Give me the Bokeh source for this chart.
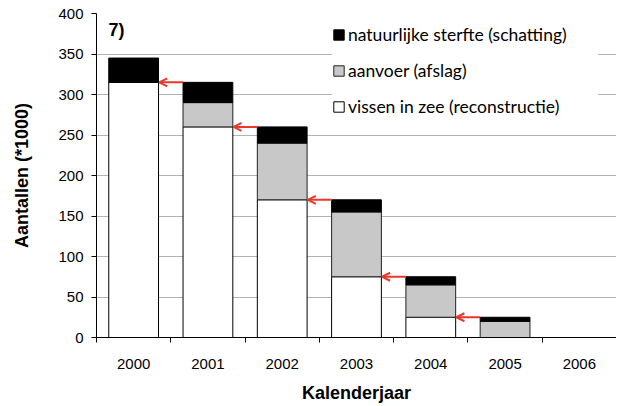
from bokeh.plotting import figure
from bokeh.models import (Range1d, FixedTicker, ColumnDataSource, Arrow, OpenHead,
                          Label, Legend, LegendItem)
from bokeh.embed import file_html
from bokeh.resources import INLINE

years = ["2000", "2001", "2002", "2003", "2004", "2005", "2006"]
vissen = [315, 260, 170, 75, 25, 0, 0]        # vissen in zee (reconstructie)
aanvoer = [0, 30, 70, 80, 40, 20, 0]           # aanvoer (afslag)
sterfte = [30, 25, 20, 15, 10, 5, 0]           # natuurlijke sterfte (schatting)
y_ticks = [0, 50, 100, 150, 200, 250, 300, 350, 400]

BAR_W = 0.67
xs = [i + 0.5 for i in range(len(years))]
t2 = [v + a for v, a in zip(vissen, aanvoer)]
t3 = [v + s for v, s in zip(t2, sterfte)]

src = ColumnDataSource(dict(x=xs, w0=[0] * len(xs), v=vissen, a=t2, s=t3))

p = figure(width=616, height=405, output_backend="svg", toolbar_location=None,
           x_range=Range1d(0, len(years)), y_range=Range1d(0, 400),
           min_border_left=96, min_border_right=0, min_border_top=13, min_border_bottom=66)
p.outline_line_color = None
p.background_fill_color = "white"

p.xgrid.grid_line_color = None
p.ygrid.grid_line_color = "#b3b3b3"
p.ygrid.grid_line_width = 1

r_white = p.vbar(x="x", width=BAR_W, bottom="w0", top="v", source=src,
                 fill_color="white", line_color="black", line_width=1)
r_grey = p.vbar(x="x", width=BAR_W, bottom="v", top="a", source=src,
                fill_color="#c8c8c8", line_color="#222222", line_width=1)
r_black = p.vbar(x="x", width=BAR_W, bottom="a", top="s", source=src,
                 fill_color="black", line_color="black", line_width=1)

ax_s, ay, ax_e = [], [], []
for i in range(len(years) - 1):
    if t3[i + 1] > 0:
        ax_s.append(xs[i + 1] - BAR_W / 2)
        ax_e.append(xs[i] + BAR_W / 2 + 0.01)
        ay.append(vissen[i])
asrc = ColumnDataSource(dict(xs=ax_s, xe=ax_e, y=ay))
p.add_layout(Arrow(end=OpenHead(size=8, line_color="#e8392a", line_width=2),
                   x_start="xs", y_start="y", x_end="xe", y_end="y", source=asrc,
                   line_color="#e8392a", line_width=2))

xa = p.xaxis[0]
xa.ticker = FixedTicker(ticks=xs, minor_ticks=list(range(len(years) + 1)))
xa.major_label_overrides = {x: y for x, y in zip(xs, years)}
xa.major_tick_line_color = None
xa.minor_tick_in = 0
xa.minor_tick_out = 5
xa.minor_tick_line_color = "black"
xa.axis_line_color = "black"
xa.major_label_standoff = 15
xa.major_label_text_font = "Liberation Sans"
xa.major_label_text_font_size = "15px"
xa.major_label_text_color = "black"
xa.axis_label = "Kalenderjaar"
xa.axis_label_text_font = "Liberation Sans"
xa.axis_label_text_font_style = "bold"
xa.axis_label_text_font_size = "18px"
xa.axis_label_text_color = "black"
xa.axis_label_standoff = 11

ya = p.yaxis[0]
ya.ticker = FixedTicker(ticks=y_ticks, minor_ticks=[])
ya.major_tick_in = 0
ya.major_tick_out = 5
ya.major_tick_line_color = "black"
ya.axis_line_color = "black"
ya.major_label_standoff = 8
ya.major_label_text_font = "Liberation Sans"
ya.major_label_text_font_size = "15px"
ya.major_label_text_color = "black"
ya.axis_label = "Aantallen (*1000)"
ya.axis_label_text_font = "Liberation Sans"
ya.axis_label_text_font_style = "bold"
ya.axis_label_text_font_size = "18px"
ya.axis_label_text_color = "black"
ya.axis_label_standoff = 23

p.add_layout(Label(x=0.16, y=367, text="7)", text_font="Liberation Sans",
                   text_font_style="bold", text_font_size="18px", text_color="black"))

legend = Legend(items=[LegendItem(label="natuurlijke sterfte (schatting)", renderers=[r_black]),
                       LegendItem(label="aanvoer (afslag)", renderers=[r_grey]),
                       LegendItem(label="vissen in zee (reconstructie)", renderers=[r_white])],
                location=(236, 220))
legend.background_fill_color = "white"
legend.background_fill_alpha = 1
legend.border_line_color = None
legend.label_text_font = "Lato"
legend.label_text_font_size = "17.5px"
legend.label_text_color = "black"
legend.glyph_width = 13
legend.glyph_height = 13
legend.label_standoff = 3
legend.spacing = 15
legend.padding = 10
legend.margin = 0
legend.label_width = 250
p.add_layout(legend)

open("out.html", "w").write(file_html(p, INLINE))
